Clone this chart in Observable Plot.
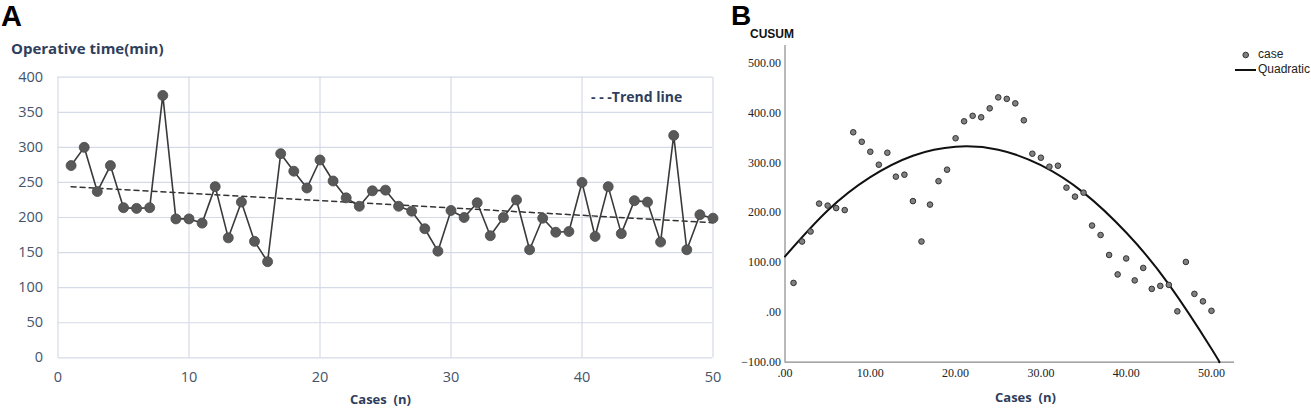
<!DOCTYPE html>
<html>
<head>
<meta charset="utf-8">
<script src="https://cdn.jsdelivr.net/npm/d3@7"></script>
<script src="https://cdn.jsdelivr.net/npm/@observablehq/plot@0.6"></script>
<style>
  body { margin: 0; background: #fff; }
  #wrap { position: relative; width: 1311px; height: 408px; overflow: hidden; background: #fff; }
  .abs { position: absolute; white-space: nowrap; }
  .panel { position: absolute; top: 0; }
</style>
</head>
<body>
<div id="wrap">
  <div id="pa" class="panel" style="left:0"></div>
  <div id="pb" class="panel" style="left:730px"></div>
  <div class="abs" style="left:1px;top:2px;font:bold 29px/1 'Liberation Sans',Arial,sans-serif;color:#000">A</div>
  <div class="abs" style="left:731px;top:2px;font:bold 28px/1 'Liberation Sans',Arial,sans-serif;color:#000">B</div>
  <div class="abs" style="left:11px;top:38px;font:bold 15px 'Open Sans',sans-serif;color:#2f3e5c">Operative time(min)</div>
  <div class="abs" style="left:350px;top:390px;font:bold 13px 'Open Sans',sans-serif;color:#2f3e5c">Cases&nbsp;&nbsp;(n)</div>
  <div class="abs" style="left:591px;top:87px;font:bold 14px 'Open Sans',sans-serif;color:#2f3e5c">- - -Trend line</div>
  <div class="abs" style="left:750px;top:27px;font:bold 12px 'Liberation Sans',Arial,sans-serif;color:#111">CUSUM</div>
  <div class="abs" style="left:995px;top:388px;font:bold 13px 'Open Sans',sans-serif;color:#2f3e5c">Cases&nbsp;&nbsp;(n)</div>
  <div class="abs" style="left:1240px;top:48px;">
    <svg width="12" height="14"><circle cx="5.7" cy="7" r="2.8" fill="#808080" stroke="#333" stroke-width="1"/></svg>
  </div>
  <div class="abs" style="left:1258px;top:47px;font:12px 'Liberation Sans',Arial,sans-serif;color:#222">case</div>
  <div class="abs" style="left:1235px;top:69px;width:21px;height:2px;background:#111"></div>
  <div class="abs" style="left:1258px;top:62px;font:12px 'Liberation Sans',Arial,sans-serif;color:#222">Quadratic</div>
</div>
<script>
// Panel A: operative time per case
const cases = d3.range(1, 51);
const operativeTime = [274, 300, 237, 274, 214, 213, 214, 374, 198, 198,
  192, 244, 171, 222, 166, 137, 291, 266, 242, 282,
  252, 228, 216, 238, 239, 216, 209, 184, 152, 210,
  200, 221, 174, 200, 225, 154, 199, 179, 180, 250,
  173, 244, 177, 224, 222, 165, 317, 154, 204, 199];
const aTicksX = [0, 10, 20, 30, 40, 50];
const aTicksY = [0, 50, 100, 150, 200, 250, 300, 350, 400];

// Panel B: CUSUM per case
const cusum = [59, 142, 162, 218, 214, 209, 205, 361, 342, 322,
  296, 320, 272, 276, 223, 142, 216, 263, 286, 349,
  383, 394, 391, 409, 431, 428, 419, 385, 318, 310,
  292, 294, 250, 232, 240, 174, 155, 115, 76, 108,
  64, 89, 47, 53, 55, 2, 101, 37, 22, 3];
// Quadratic fit curve
const quadX = [0, 5, 10, 15, 20, 25, 30, 35, 40, 45, 50, 50.9];
const quadY = [112, 204, 271, 314, 332, 326, 295, 240, 160, 56, -73, -100];
const bTicksX = [0, 10, 20, 30, 40, 50];
const bTicksY = [-100, 0, 100, 200, 300, 400, 500];

const dataA = cases.map((c, i) => ({x: c, y: operativeTime[i]}));
const dataB = cases.map((c, i) => ({x: c, y: cusum[i]}));
const dataQ = quadX.map((x, i) => ({x, y: quadY[i]}));

const gridColor = "#d5dbe6";
const plotA = Plot.plot({
  width: 730, height: 408,
  marginLeft: 57.5, marginRight: 17.5, marginTop: 76.7, marginBottom: 50.7,
  style: {fontFamily: "'Open Sans', sans-serif", fontSize: "14.5px", color: "#44546a", background: "transparent"},
  x: {domain: [0, 50], label: null},
  y: {domain: [0, 400], label: null},
  marks: [
    Plot.gridX(aTicksX, {stroke: gridColor, strokeOpacity: 1, strokeWidth: 1.2}),
    Plot.gridY(aTicksY, {stroke: gridColor, strokeOpacity: 1, strokeWidth: 1.2}),
    Plot.axisX({ticks: aTicksX, tickSize: 0, tickPadding: 14, fill: "#44546a"}),
    Plot.axisY({ticks: aTicksY, tickSize: 0, tickPadding: 15, fill: "#44546a"}),
    Plot.linearRegressionY(dataA, {x: "x", y: "y", stroke: "#333", strokeWidth: 1.5, strokeDasharray: "5,4", ci: 0}),
    Plot.line(dataA, {x: "x", y: "y", stroke: "#3a3a3a", strokeWidth: 1.6}),
    Plot.dot(dataA, {x: "x", y: "y", r: 5, fill: "#595959", stroke: "#4a4a4a", strokeWidth: 0.8})
  ]
});
document.getElementById("pa").appendChild(plotA);

const fmtB = d => d3.format(".2f")(d).replace(/^0\./, ".");
const plotB = Plot.plot({
  width: 581, height: 408,
  marginLeft: 54.5, marginRight: 77, marginTop: 45, marginBottom: 46.3,
  style: {fontFamily: "'Liberation Serif', 'Times New Roman', serif", fontSize: "12px", color: "#222", background: "transparent"},
  x: {domain: [0, 52.7], label: null},
  y: {domain: [-100, 535], label: null},
  marks: [
    Plot.axisX({ticks: bTicksX, tickSize: 0, tickPadding: 6, tickFormat: fmtB, fill: "#222"}),
    Plot.axisY({ticks: bTicksY, tickSize: 0, tickPadding: 4, tickFormat: fmtB, fill: "#222"}),
    Plot.ruleY([-100], {stroke: "#8a8a8a", strokeWidth: 1.2}),
    Plot.ruleX([0], {stroke: "#8a8a8a", strokeWidth: 1.2}),
    Plot.line(dataQ, {x: "x", y: "y", curve: "natural", stroke: "#111", strokeWidth: 2}),
    Plot.dot(dataB, {x: "x", y: "y", r: 2.8, fill: "#808080", stroke: "#333", strokeWidth: 1})
  ]
});
document.getElementById("pb").appendChild(plotB);
</script>
</body>
</html>
